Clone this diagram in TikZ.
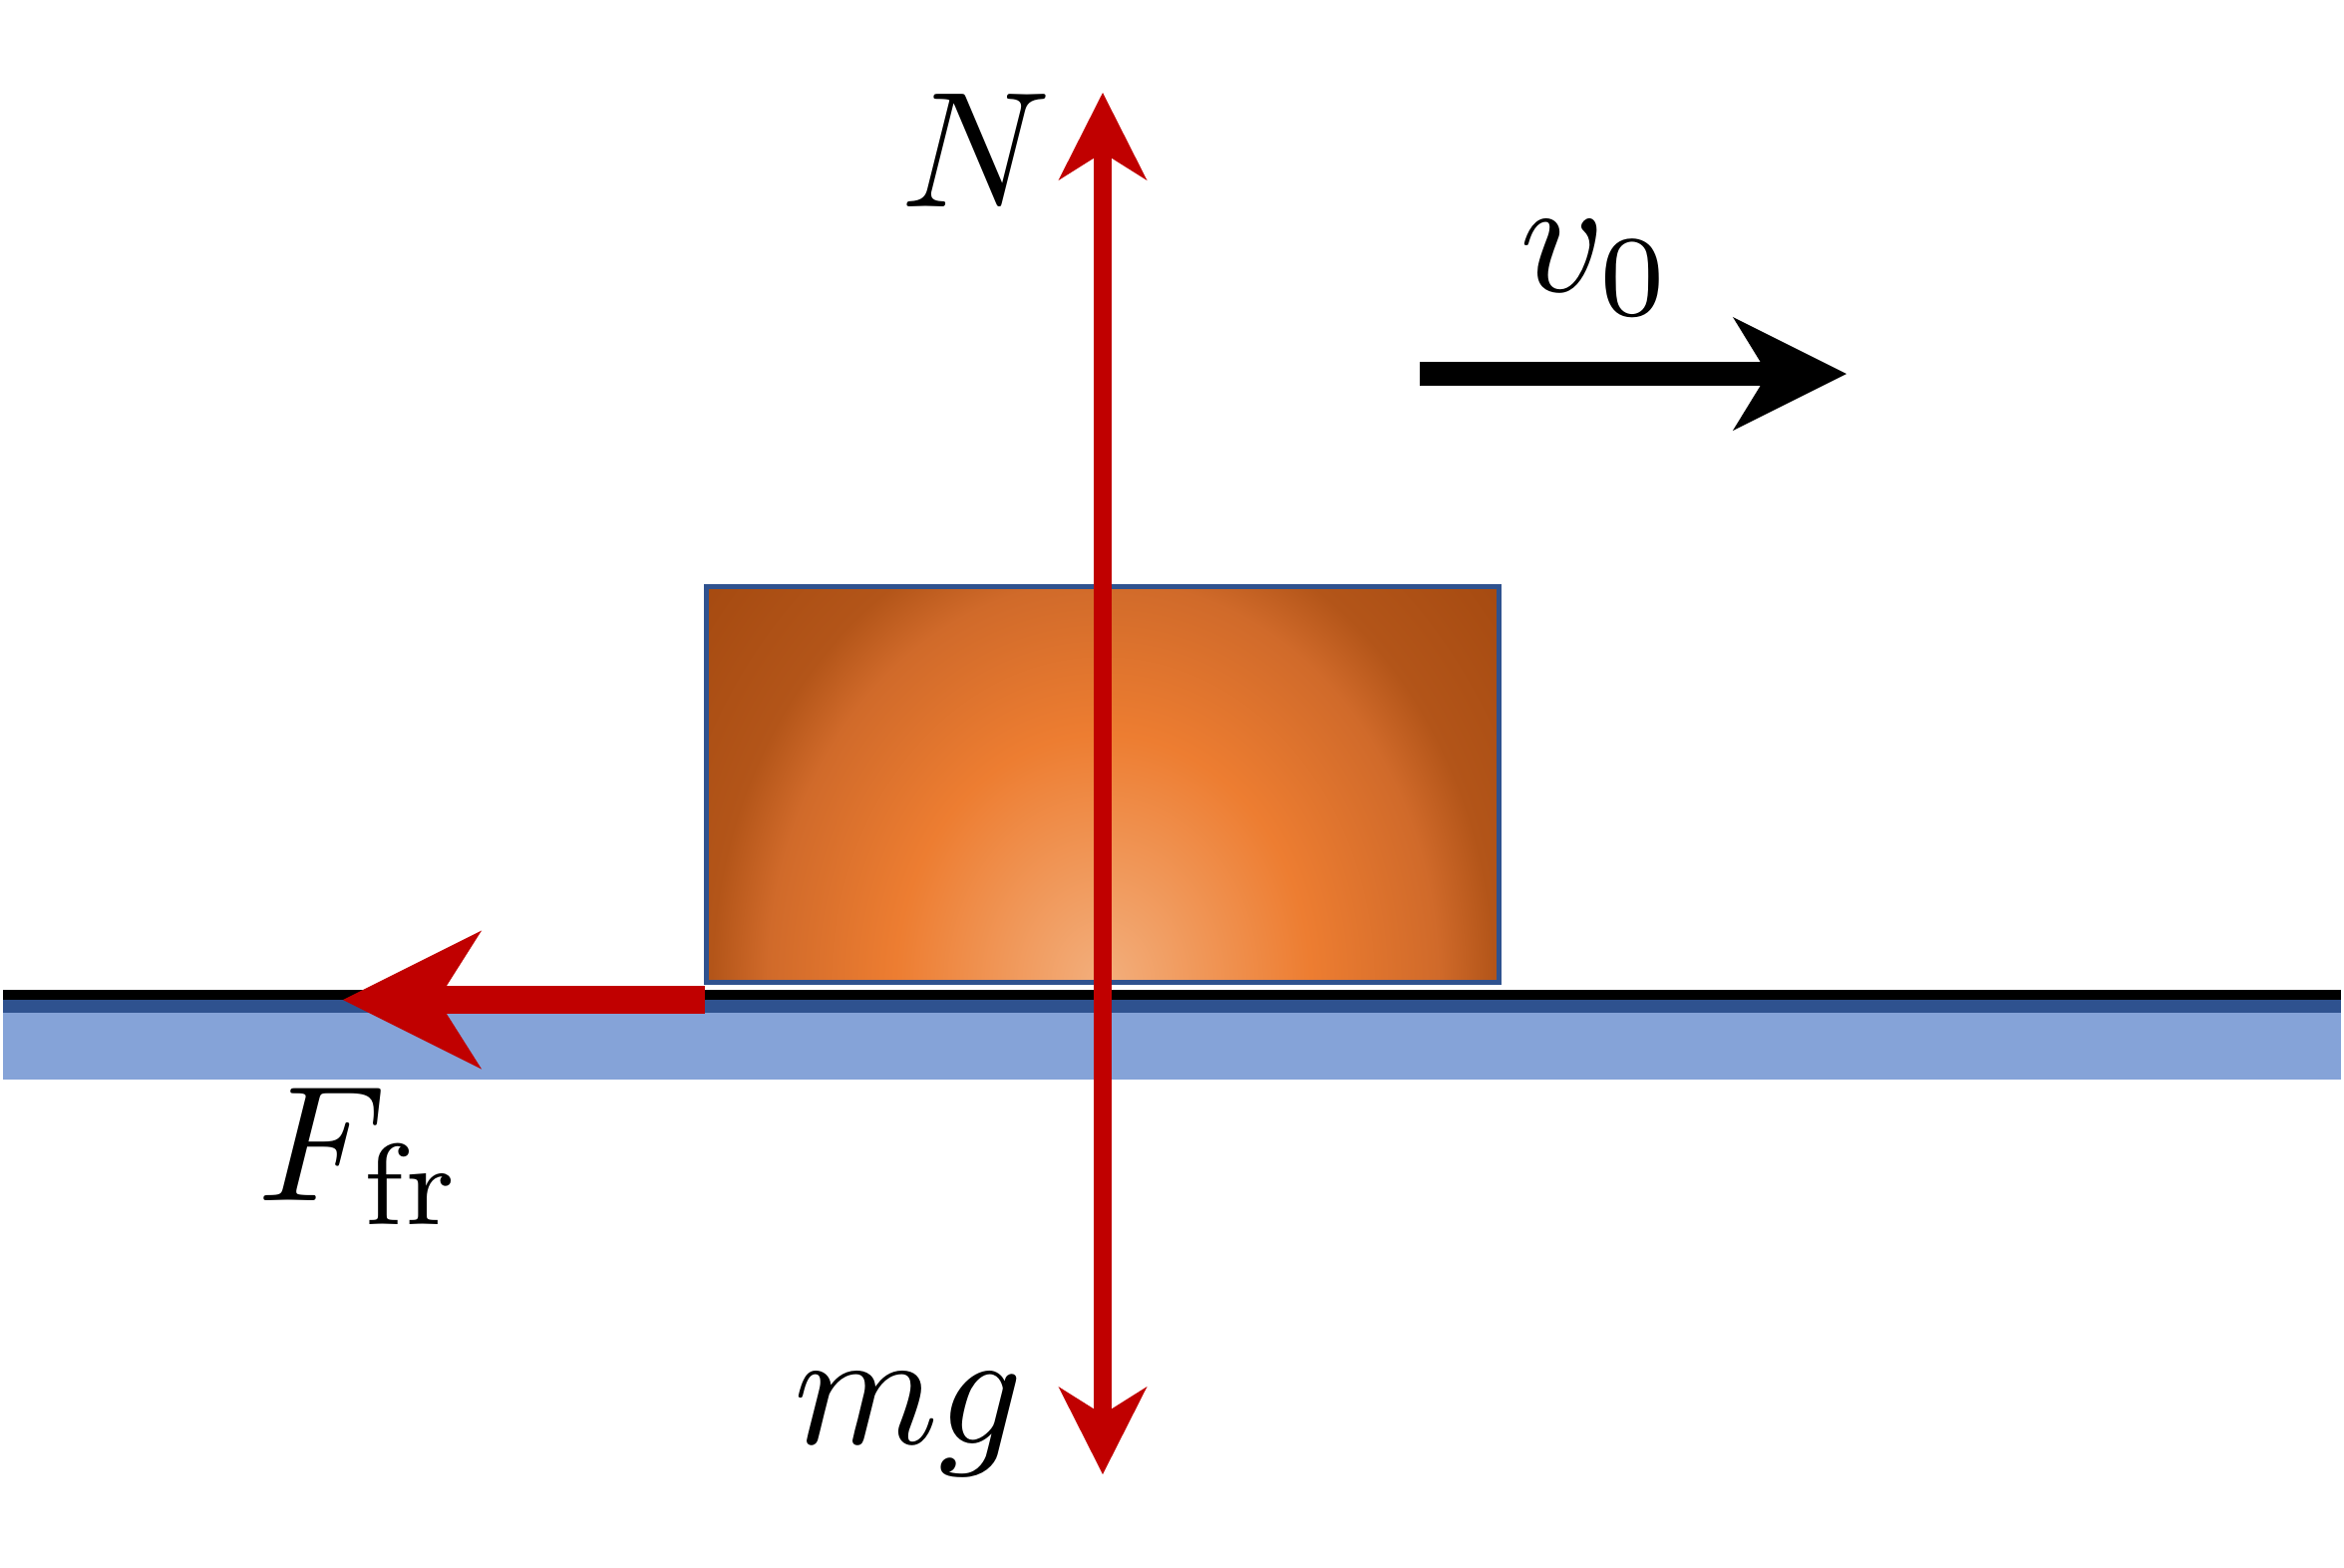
\documentclass[tikz,border=0pt]{standalone}
\usepackage{graphicx}
\usetikzlibrary{arrows.meta}
\definecolor{forcered}{HTML}{C00000}
\definecolor{groundlight}{HTML}{85A3D8}
\definecolor{grounddark}{HTML}{2F528F}
\definecolor{blockedge}{HTML}{2F528F}
\definecolor{shA}{HTML}{F3AF7D}
\definecolor{shB}{HTML}{ED7D31}
\definecolor{shC}{HTML}{D06A2A}
\definecolor{shD}{HTML}{B35519}
\definecolor{shE}{HTML}{A3480F}
\pgfdeclareradialshading{blockshade}{\pgfpoint{0bp}{0bp}}{color(0bp)=(shA); color(13bp)=(shB); color(21bp)=(shC); color(24.5bp)=(shD); color(34bp)=(shE); color(50bp)=(shE)}
\newcommand{\biglabel}[1]{\scalebox{4.7}{\fontsize{10}{12}\selectfont #1}}
\begin{document}
\begin{tikzpicture}[x=0.01cm,y=-0.01cm,
  lbl/.style={inner sep=0pt, anchor=base},
  force/.style={draw=forcered, line width=0.18cm, -{Stealth[length=0.88cm,width=0.89cm,inset=0.28cm,line width=0pt]}},
  friction/.style={draw=forcered, line width=0.28cm, -{Stealth[length=1.39cm,width=1.39cm,inset=0.44cm,line width=0pt]}},
  velocity/.style={draw=black, line width=0.24cm, -{Stealth[length=1.14cm,width=1.14cm,inset=0.35cm,line width=0pt]}},
  block/.style={rectangle, draw=blockedge, line width=0.05cm, minimum width=7.95cm, minimum height=3.97cm, inner sep=0pt,
    path picture={\shade[shading=blockshade] ([xshift=-4cm,yshift=-4.8cm]path picture bounding box.south) rectangle ([xshift=4cm,yshift=4.8cm]path picture bounding box.south);}}
]
\useasboundingbox (0,0) rectangle (2351,1572);
% ground
\fill[groundlight] (3,1003) rectangle (2348,1083);
\fill[grounddark] (3,1003) rectangle (2348,1016);
\fill[black] (3,993) rectangle (2348,1003);
% block
\node[block] (block) at (1106,787) {};
% forces
\coordinate (Ntip) at (1106,93);
\coordinate (mgtip) at (1106,1479);
\coordinate (ffstart) at (707,1003);
\coordinate (fftip) at (344,1003);
\coordinate (vstart) at (1424,375);
\coordinate (vtip) at (1852,375);
\draw[force] (block.center) -- (Ntip);
\draw[force] (block.center) -- (mgtip);
\draw[friction] (ffstart) -- (fftip);
\draw[velocity] (vstart) -- (vtip);
% labels
\node[lbl] (Nlab) at (979,207) {\biglabel{$N$}};
\node[lbl] (mglab) at (911,1448) {\biglabel{$mg$}};
\node[lbl] (Flab) at (362,1204) {\biglabel{$F_{\mathrm{fr}}$}};
\node[lbl] (vlab) at (1602,292) {\biglabel{$v_0$}};
\end{tikzpicture}
\end{document}
